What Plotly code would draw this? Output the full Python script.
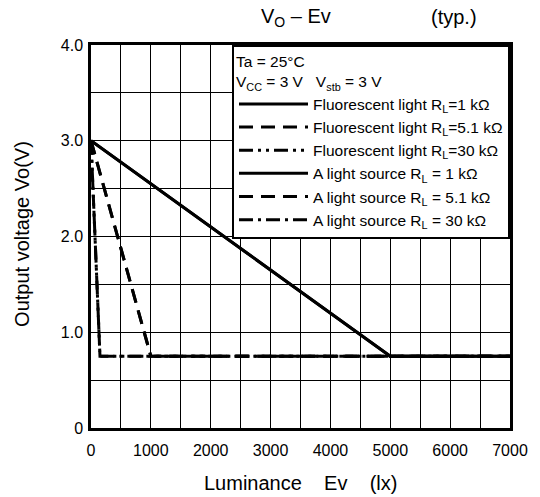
import plotly.graph_objects as go

# Output voltage vs. luminance, typical curves (Ta = 25 °C, Vcc = Vstb = 3 V)
series_names = [
    "Fluorescent light R<sub>L</sub>=1 k\u03a9",
    "Fluorescent light R<sub>L</sub>=5.1 k\u03a9",
    "Fluorescent light R<sub>L</sub>=30 k\u03a9",
    "A light source R<sub>L</sub> = 1 k\u03a9",
    "A light source R<sub>L</sub> = 5.1 k\u03a9",
    "A light source R<sub>L</sub> = 30 k\u03a9",
]

# luminance (lx) breakpoints and output voltage (V) for each load resistor
ev_1k = [0, 5000, 7000]
vo_1k = [3.0, 0.75, 0.75]

ev_5k1 = [0, 1000, 7000]
vo_5k1 = [3.0, 0.75, 0.75]

ev_30k = [0, 150, 7000]
vo_30k = [3.0, 0.75, 0.75]

x_tick_vals = [0, 1000, 2000, 3000, 4000, 5000, 6000, 7000]
x_tick_text = ["0", "1000", "2000", "3000", "4000", "5000", "6000", "7000"]
y_tick_vals = [0, 1, 2, 3, 4]
y_tick_text = ["0", "1.0", "2.0", "3.0", "4.0"]

FONT = "Liberation Sans, Arial, sans-serif"
DASH_LONG = "14px,8px"
DASH_DOT_DOT = "14px,5px,3px,5px,3px,5px"
DASH_DOT = "14px,5px,3px,5px"

curves = [
    (ev_1k, vo_1k, "solid"),
    (ev_5k1, vo_5k1, DASH_LONG),
    (ev_30k, vo_30k, DASH_DOT_DOT),
    (ev_1k, vo_1k, "solid"),
    (ev_5k1, vo_5k1, DASH_LONG),
    (ev_30k, vo_30k, DASH_DOT),
]

fig = go.Figure()
for name, (xs, ys, dash) in zip(series_names, curves):
    fig.add_trace(go.Scatter(
        x=xs, y=ys, mode="lines", name=name,
        line=dict(color="black", width=3, dash=dash),
    ))

axis_common = dict(
    showline=True, linecolor="black", linewidth=2.5, mirror=True,
    showgrid=True, gridcolor="black", gridwidth=1.3,
    zeroline=False, ticks="",
    tickfont=dict(family=FONT, size=16, color="black"),
)

fig.update_xaxes(
    range=[0, 7000], tickvals=x_tick_vals, ticktext=x_tick_text,
    minor=dict(dtick=500, showgrid=True, gridcolor="black", gridwidth=1.3),
    ticklabelstandoff=6,
    **axis_common,
)
fig.update_yaxes(
    range=[0, 4], tickvals=y_tick_vals, ticktext=y_tick_text,
    minor=dict(dtick=0.5, showgrid=True, gridcolor="black", gridwidth=1.3),
    ticklabelstandoff=2,
    **axis_common,
)

fig.update_layout(
    width=540, height=497,
    margin=dict(l=91, r=22, t=45, b=69),
    paper_bgcolor="white", plot_bgcolor="white",
    font=dict(family=FONT, color="black"),
    showlegend=True,
    legend=dict(
        x=1, xanchor="right", y=1, yanchor="top",
        bgcolor="white", bordercolor="black", borderwidth=2,
        font=dict(family=FONT, size=15.5, color="black"),
        itemwidth=69,
        title=dict(
            text="Ta = 25\u00b0C<br>V<sub>CC</sub> = 3 V\u00a0\u00a0\u00a0V<sub>stb</sub> = 3 V",
            font=dict(family=FONT, size=15.5, color="black"),
        ),
    ),
    annotations=[
        dict(text="V<sub>O</sub> \u2013 Ev", xref="paper", yref="paper",
             x=0.489, y=1.073, xanchor="center", yanchor="middle",
             showarrow=False, font=dict(family=FONT, size=20)),
        dict(text="(typ.)", xref="paper", yref="paper",
             x=0.866, y=1.073, xanchor="center", yanchor="middle",
             showarrow=False, font=dict(family=FONT, size=20)),
        dict(text="Luminance\u00a0\u00a0\u00a0\u00a0Ev\u00a0\u00a0\u00a0\u00a0(lx)",
             xref="paper", yref="paper", x=0.501, y=-0.1436,
             xanchor="center", yanchor="middle",
             showarrow=False, font=dict(family=FONT, size=20)),
        dict(text="Output voltage Vo(V)", xref="paper", yref="paper",
             x=-0.165, y=0.5065, xanchor="center", yanchor="middle",
             textangle=-90, showarrow=False, font=dict(family=FONT, size=20)),
    ],
)

fig.write_html("out.html")
